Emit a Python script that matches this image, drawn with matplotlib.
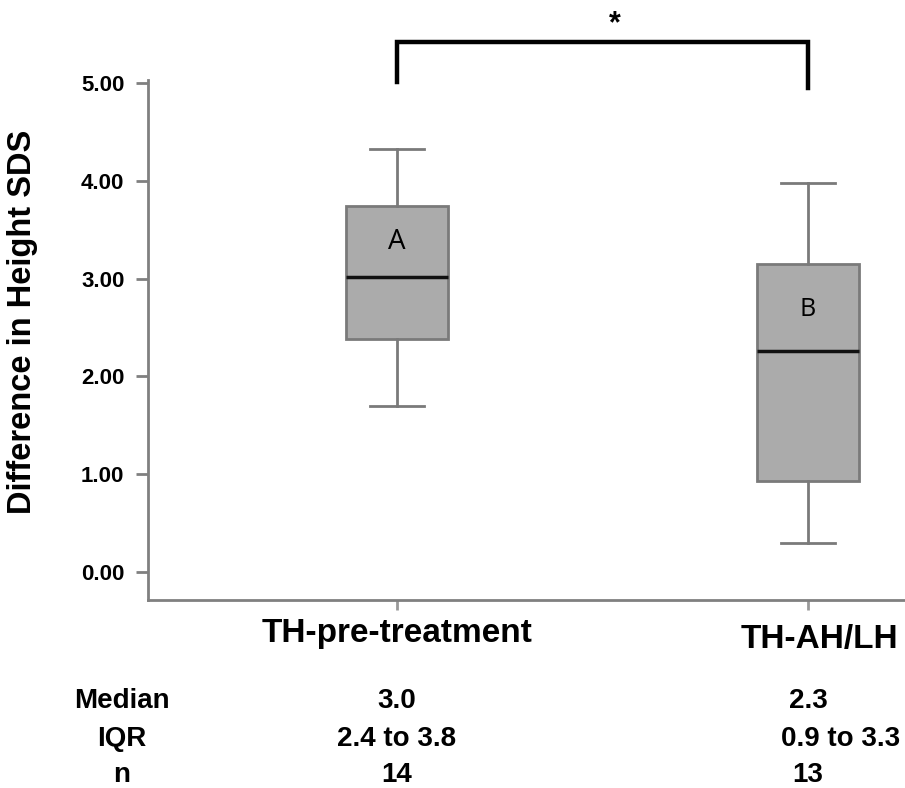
import matplotlib
matplotlib.use('Agg')
import matplotlib.pyplot as plt
from matplotlib.transforms import blended_transform_factory

# data
groups = ['TH-pre-treatment', 'TH-AH/LH']
whisker_low = [1.70, 0.30]
q1 = [2.38, 0.93]
medians = [3.02, 2.26]
q3 = [3.74, 3.15]
whisker_high = [4.32, 3.98]
box_letters = ['A', 'B']
yticks = [0, 1, 2, 3, 4, 5]

row_names = ['Median', 'IQR', 'n']
median_txt = ['3.0', '2.3']
iqr_txt = ['2.4 to 3.8', '0.9 to 3.3']
n_txt = ['14', '13']

W, H = 905, 788
fig = plt.figure(figsize=(W / 100, H / 100), dpi=100)
ax = fig.add_axes([148 / W, 1 - 600 / H, (W - 148) / W, (600 - 80) / H])

stats = []
for i, g in enumerate(groups):
    stats.append({'label': g, 'whislo': whisker_low[i], 'q1': q1[i], 'med': medians[i],
                  'q3': q3[i], 'whishi': whisker_high[i], 'fliers': []})

pos = [1, 2]
edge = '#7a7a7a'
ax.bxp(stats, positions=pos, widths=0.25, capwidths=0.13, patch_artist=True, showfliers=False,
       boxprops=dict(facecolor='#ababab', edgecolor=edge, linewidth=2),
       medianprops=dict(color='#111111', linewidth=2.5),
       whiskerprops=dict(color=edge, linewidth=2),
       capprops=dict(color=edge, linewidth=2))

ax.set_xlim(0.394, 2.236)
ax.set_ylim(-0.286, 5.03)

ax.spines['top'].set_visible(False)
ax.spines['right'].set_visible(False)
for s in ['left', 'bottom']:
    ax.spines[s].set_color('#808080')
    ax.spines[s].set_linewidth(2)

bold = dict(fontweight='bold', family='Liberation Sans')

ax.set_yticks(yticks)
ax.set_yticklabels([f'{v:.2f}' for v in yticks], fontsize=16, **bold)
ax.tick_params(axis='y', length=9, width=2, color='#808080', pad=8)
ax.set_xticks(pos)
ax.set_xticklabels([])
ax.tick_params(axis='x', length=7, width=2, color='#999999')

fig.text(23 / W, 1 - 322 / H, 'Difference in Height SDS', rotation=90, ha='center',
         va='center', fontsize=23.5, **bold)

# letters inside boxes
ax.text(1, 3.37, box_letters[0], ha='center', va='center', fontsize=20, family='Open Sans')
ax.text(2, 2.68, box_letters[1], ha='center', va='center', fontsize=18, family='Open Sans')

# significance bracket
ax.plot([1, 1, 2, 2], [5.01, 5.42, 5.42, 4.95], color='black', lw=3.2, clip_on=False,
        solid_joinstyle='miter')
ax.text(1.53, 5.6, '*', ha='center', va='center', fontsize=22, **bold)

tr = blended_transform_factory(ax.transData, fig.transFigure)

# category labels
ax.text(1, 1 - 642 / H, groups[0], transform=tr, ha='center', va='baseline', fontsize=24, **bold)
ax.text(2.029, 1 - 648 / H, groups[1], transform=tr, ha='center', va='baseline', fontsize=24,
        **bold)

# summary table
row_y = [708, 746, 782]
cols = [median_txt, iqr_txt, n_txt]
for r, name in enumerate(row_names):
    y = 1 - row_y[r] / H
    ax.text(0.331, y, name, transform=tr, ha='center', va='baseline', fontsize=20, **bold)
    ax.text(1, y, cols[r][0], transform=tr, ha='center', va='baseline', fontsize=20, **bold)
    x2 = 2.078 if r == 1 else 2
    ax.text(x2, y, cols[r][1], transform=tr, ha='center', va='baseline', fontsize=20, **bold)

fig.savefig('out.png', dpi=100)
